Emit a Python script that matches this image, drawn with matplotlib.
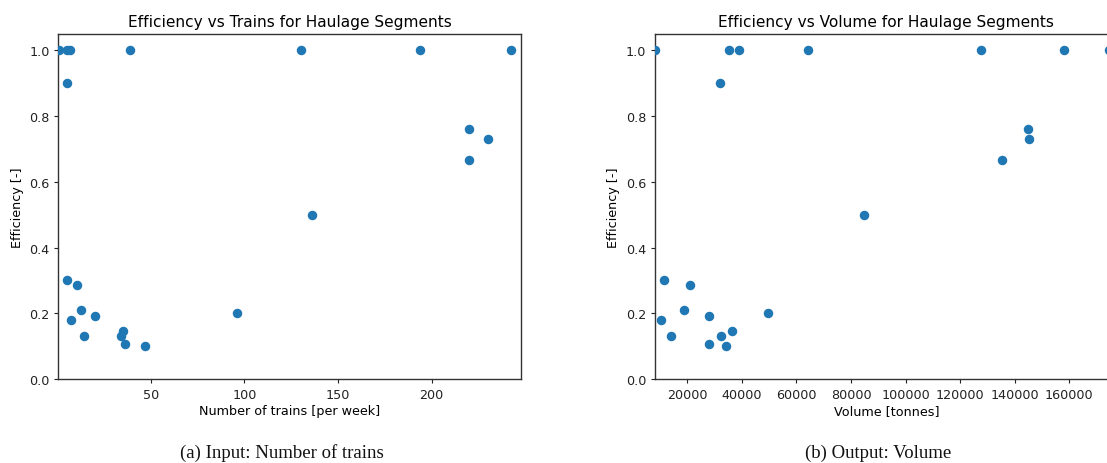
import matplotlib
matplotlib.use("Agg")
import matplotlib.pyplot as plt

# Efficiency values (shared by both panels, same segments)
efficiency = [1.0, 1.0, 1.0, 0.9, 1.0, 1.0, 1.0, 1.0,
              0.76, 0.73, 0.667, 0.5, 0.2,
              0.3, 0.285, 0.21, 0.192, 0.18, 0.131, 0.131, 0.146, 0.106, 0.1]

# Panel (a): number of trains per week
trains = [1.0, 5.4, 6.9, 5.4, 39.2, 130, 194, 242.6,
          220, 230, 220, 136, 96.2,
          5.4, 10.5, 12.6, 20.4, 7.6, 14.3, 34.2, 35.1, 36.1, 47.2]

# Panel (b): volume in tonnes (same segment order)
volume = [8100, 35400, 39000, 32000, 64300, 127600, 158100, 174500,
          145000, 145400, 135200, 84600, 49400,
          11350, 21000, 18970, 27850, 10200, 14060, 32350, 36210, 27850, 34150]

titles = ["Efficiency vs Trains for Haulage Segments",
          "Efficiency vs Volume for Haulage Segments"]
xlabels = ["Number of trains [per week]", "Volume [tonnes]"]
ylabel = "Efficiency [-]"
captions = ["(a) Input: Number of trains", "(b) Output: Volume"]

W, H = 1107, 464
fig = plt.figure(figsize=(W / 100, H / 100), dpi=100)

ax_w = (521 - 58.3) / W
ax_h = (380 - 35) / H
ax_b = (H - 380) / H
ax1 = fig.add_axes([58.3 / W, ax_b, ax_w, ax_h])
ax2 = fig.add_axes([655 / W, ax_b, ax_w, ax_h])

for ax, x, t, xl in [(ax1, trains, titles[0], xlabels[0]),
                     (ax2, volume, titles[1], xlabels[1])]:
    ax.scatter(x, efficiency, s=34, color="#1f77b4", zorder=3, clip_on=True)
    ax.set_title(t, fontsize=11.1, pad=5.5)
    ax.set_xlabel(xl, fontsize=9.2, labelpad=2.5)
    ax.set_ylabel(ylabel, fontsize=9.2, labelpad=4)
    ax.tick_params(labelsize=9.2, length=3.2, width=0.8, colors="#222222", pad=3)
    ax.set_ylim(0, 1.05)
    ax.set_yticks([0.0, 0.2, 0.4, 0.6, 0.8, 1.0])
    for sp in ax.spines.values():
        sp.set_color("#333333")
        sp.set_linewidth(1.0)

ax1.set_xlim(0.7, 247.7)
ax1.set_xticks([50, 100, 150, 200])
ax2.set_xlim(8160, 177740)
ax2.set_xticks([20000, 40000, 60000, 80000, 100000, 120000, 140000, 160000])
ax2.ticklabel_format(axis="x", style="plain", useOffset=False)

fig.text(282 / W, 1 - 453 / H, captions[0], ha="center", va="center",
         fontsize=13.5, family="Liberation Serif", color="#111111")
fig.text(878 / W, 1 - 453 / H, captions[1], ha="center", va="center",
         fontsize=13.5, family="Liberation Serif", color="#111111")

fig.savefig("out.png", dpi=100)
